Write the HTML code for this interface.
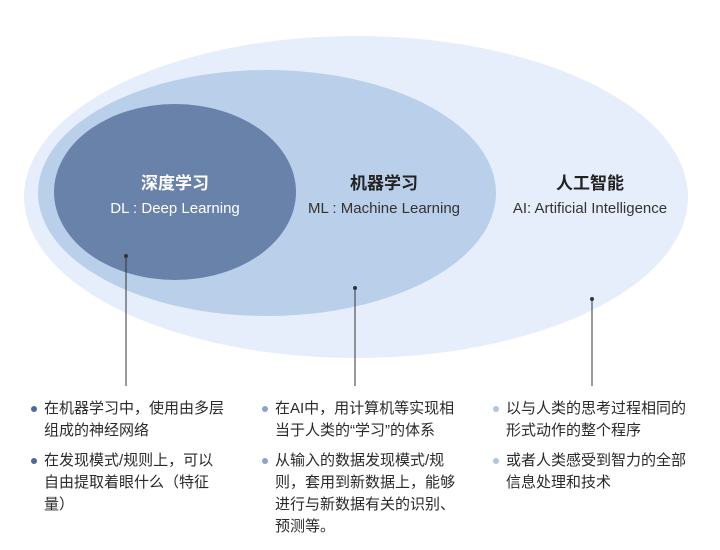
<!DOCTYPE html>
<html><head><meta charset="utf-8"><style>
body{margin:0;width:720px;height:550px;background:#fff;overflow:hidden;position:relative;font-family:"Liberation Sans","Noto Sans CJK SC",sans-serif;}
svg{position:absolute;left:0;top:0}
.col{position:absolute;top:398px;width:220px;font-size:15px;line-height:22px;color:#2a2a2a;white-space:nowrap}
.it{position:relative;padding-left:13px;margin-bottom:8px}
.it:before{content:"";position:absolute;left:0;top:8px;width:6px;height:6px;border-radius:50%;background:var(--c)}
</style></head><body>
<svg width="720" height="550">
<ellipse cx="356" cy="197" rx="332" ry="161" fill="#e6eefb"/>
<ellipse cx="267" cy="193" rx="229" ry="123" fill="#b9cfea"/>
<ellipse cx="175" cy="192" rx="121" ry="88" fill="#6882aa"/>
<g font-family="Liberation Sans, Noto Sans CJK SC, sans-serif" text-anchor="middle">
<text x="175" y="189" font-size="17" font-weight="bold" fill="#fff">深度学习</text>
<text x="175" y="213" font-size="15" fill="#fff">DL : Deep Learning</text>
<text x="384" y="189" font-size="17" font-weight="bold" fill="#222">机器学习</text>
<text x="384" y="213" font-size="15" fill="#333">ML : Machine Learning</text>
<text x="590" y="189" font-size="17" font-weight="bold" fill="#222">人工智能</text>
<text x="590" y="213" font-size="15" fill="#333">AI: Artificial Intelligence</text>
</g>
<g stroke="#333" stroke-width="1">
<line x1="126" y1="256" x2="126" y2="386"/>
<line x1="355" y1="288" x2="355" y2="386"/>
<line x1="592" y1="299" x2="592" y2="386"/>
</g>
<g fill="#333"><circle cx="126" cy="256" r="2"/><circle cx="355" cy="288" r="2"/><circle cx="592" cy="299" r="2"/></g>
</svg>
<div class="col" style="left:31px;--c:#4a6a9e">
<div class="it">在机器学习中，使用由多层<br>组成的神经网络</div>
<div class="it">在发现模式/规则上，可以<br>自由提取着眼什么（特征<br>量）</div>
</div>
<div class="col" style="left:262px;--c:#8aa6cc">
<div class="it">在AI中，用计算机等实现相<br>当于人类的“学习”的体系</div>
<div class="it">从输入的数据发现模式/规<br>则，套用到新数据上，能够<br>进行与新数据有关的识别、<br>预测等。</div>
</div>
<div class="col" style="left:493px;--c:#b3c5df">
<div class="it">以与人类的思考过程相同的<br>形式动作的整个程序</div>
<div class="it">或者人类感受到智力的全部<br>信息处理和技术</div>
</div>
</body></html>
